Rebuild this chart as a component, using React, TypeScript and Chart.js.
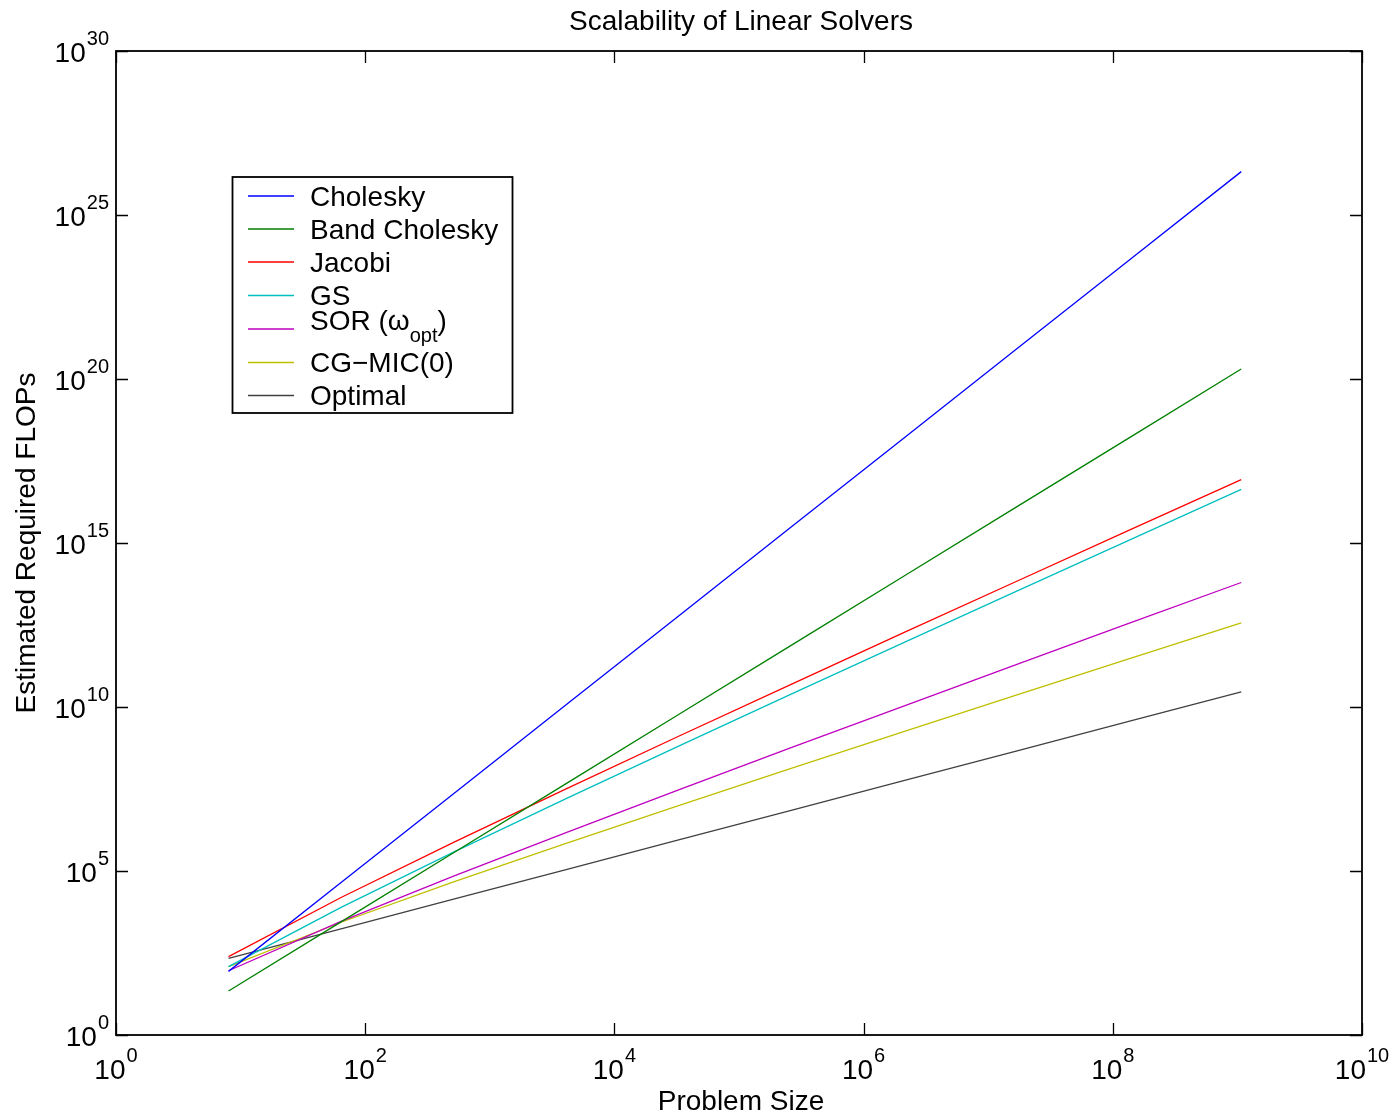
import React, { useEffect, useRef } from "react";
import { Chart, registerables } from "chart.js";

Chart.register(...registerables);

// Problem sizes N = n^3, n = 2 ... 1024
const problemSizes = [8, 64, 512, 4096, 32768, 262144, 2097152, 16777216, 134217728, 1073741824];

const cholesky = [87, 4.45e4, 2.28e7, 1.17e10, 5.98e12, 3.06e15, 1.57e18, 8.02e20, 4.11e23, 2.1e26];
const bandCholesky = [21.9, 2.81e3, 3.59e5, 4.6e7, 5.89e9, 7.54e11, 9.66e13, 1.24e16, 1.58e18, 2.02e20];
const jacobi = [244, 1.56e4, 7.5e5, 3.2e7, 1.28e9, 4.92e10, 1.84e12, 6.71e13, 2.42e15, 8.59e16];
const gaussSeidel = [122, 7.81e3, 3.75e5, 1.6e7, 6.4e8, 2.46e10, 9.18e11, 3.36e13, 1.21e15, 4.3e16];
const sorOpt = [91, 2.91e3, 6.99e4, 1.49e6, 2.98e7, 5.73e8, 1.07e10, 1.95e11, 3.52e12, 6.25e13];
const cgMic0 = [121, 2.74e3, 4.64e4, 7.0e5, 9.91e6, 1.35e8, 1.78e9, 2.3e10, 2.92e11, 3.67e12];
const optimal = [216, 1728, 13824, 110592, 884736, 7077888, 56623104, 452984832, 3623878656, 28991029248];

const seriesNames = ["Cholesky", "Band Cholesky", "Jacobi", "GS", "SOR", "CG\u2212MIC(0)", "Optimal"];
const seriesValues = [cholesky, bandCholesky, jacobi, gaussSeidel, sorOpt, cgMic0, optimal];
const seriesColors = ["#0000ff", "#008000", "#ff0000", "#00bfbf", "#bf00bf", "#bfbf00", "#404040"];

const xTickExponents = [0, 2, 4, 6, 8, 10];
const yTickExponents = [0, 5, 10, 15, 20, 25, 30];

const titleText = "Scalability of Linear Solvers";
const xTitle = "Problem Size";
const yTitle = "Estimated Required FLOPs";

const FONT = '"Liberation Sans", Arial, Helvetica, sans-serif';

const decorPlugin = {
  id: "decor",
  beforeDraw(chart: any) {
    const ctx = chart.ctx;
    ctx.save();
    ctx.fillStyle = "#ffffff";
    ctx.fillRect(0, 0, chart.width, chart.height);
    ctx.restore();
  },
  afterDraw(chart: any) {
    const ctx = chart.ctx as CanvasRenderingContext2D;
    const ca = chart.chartArea;
    const xs = chart.scales.x;
    const ys = chart.scales.y;
    ctx.save();
    // frame
    ctx.strokeStyle = "#000";
    ctx.lineWidth = 1.8;
    ctx.strokeRect(ca.left, ca.top, ca.right - ca.left, ca.bottom - ca.top);
    // ticks
    const tl = 12;
    ctx.lineWidth = 1.3;
    ctx.beginPath();
    xTickExponents.forEach((e) => {
      const px = Math.round(xs.getPixelForValue(Math.pow(10, e))) + 0.5;
      ctx.moveTo(px, ca.bottom);
      ctx.lineTo(px, ca.bottom - tl);
      ctx.moveTo(px, ca.top);
      ctx.lineTo(px, ca.top + tl);
    });
    yTickExponents.forEach((e) => {
      const py = Math.round(ys.getPixelForValue(Math.pow(10, e))) + 0.5;
      ctx.moveTo(ca.left, py);
      ctx.lineTo(ca.left + tl, py);
      ctx.moveTo(ca.right, py);
      ctx.lineTo(ca.right - tl, py);
    });
    ctx.stroke();

    ctx.fillStyle = "#000";
    ctx.textBaseline = "alphabetic";
    const big = "28px " + FONT;
    const small = "20px " + FONT;
    // x tick labels
    xTickExponents.forEach((e) => {
      const px = xs.getPixelForValue(Math.pow(10, e));
      ctx.font = big;
      const w1 = ctx.measureText("10").width;
      ctx.font = small;
      const w2 = ctx.measureText(String(e)).width;
      const total = w1 + 1 + w2;
      const sx = px - total / 2;
      ctx.textAlign = "left";
      ctx.font = big;
      ctx.fillText("10", sx, ca.bottom + 43.5);
      ctx.font = small;
      ctx.fillText(String(e), sx + w1 + 1, ca.bottom + 27);
    });
    // y tick labels
    yTickExponents.forEach((e) => {
      const py = ys.getPixelForValue(Math.pow(10, e));
      ctx.font = small;
      const w2 = ctx.measureText(String(e)).width;
      ctx.font = big;
      const w1 = ctx.measureText("10").width;
      const right = ca.left - 7;
      ctx.textAlign = "left";
      ctx.font = big;
      ctx.fillText("10", right - w2 - 1 - w1, py + 10.5);
      ctx.font = small;
      ctx.fillText(String(e), right - w2, py - 6);
    });
    // title
    ctx.font = big;
    ctx.textAlign = "center";
    ctx.fillText(titleText, (ca.left + ca.right) / 2 + 2, 29.5);
    // x title
    ctx.fillText(xTitle, (ca.left + ca.right) / 2 + 2, 1110);
    // y title
    ctx.save();
    ctx.translate(35, (ca.top + ca.bottom) / 2);
    ctx.rotate(-Math.PI / 2);
    ctx.textAlign = "center";
    ctx.fillText(yTitle, 0, 0);
    ctx.restore();

    // legend
    const bx = 232.5, by = 177, bw = 280, bh = 236;
    ctx.fillStyle = "#fff";
    ctx.fillRect(bx, by, bw, bh);
    ctx.strokeStyle = "#000";
    ctx.lineWidth = 1.8;
    ctx.strokeRect(bx, by, bw, bh);
    const rowY = [196, 229, 262, 295.5, 329, 362.5, 395.5];
    chart.data.datasets.forEach((ds: any, i: number) => {
      const y = rowY[i];
      ctx.strokeStyle = ds.borderColor;
      ctx.lineWidth = 1.3;
      ctx.beginPath();
      ctx.moveTo(248, y);
      ctx.lineTo(294, y);
      ctx.stroke();
      ctx.fillStyle = "#000";
      ctx.textAlign = "left";
      ctx.font = big;
      if (i === 4) {
        const base = y + 0.5;
        const t1 = "SOR (\u03c9";
        ctx.fillText(t1, 310, base);
        const w = ctx.measureText(t1).width;
        ctx.font = small;
        ctx.fillText("opt", 310 + w, base + 12);
        const w3 = ctx.measureText("opt").width;
        ctx.font = big;
        ctx.fillText(")", 310 + w + w3, base);
      } else {
        ctx.fillText(ds.label, 310, y + 9.5);
      }
    });
    ctx.restore();
  },
};

export default function App() {
  const ref = useRef<HTMLCanvasElement>(null);
  useEffect(() => {
    const datasets = seriesNames.map((name, i) => ({
      label: name,
      data: problemSizes.map((n, j) => ({ x: n, y: seriesValues[i][j] })),
      borderColor: seriesColors[i],
      backgroundColor: seriesColors[i],
      borderWidth: 1.3,
      pointRadius: 0,
      fill: false,
      tension: 0,
    }));
    const chart = new Chart(ref.current as HTMLCanvasElement, {
      type: "line",
      data: { datasets },
      options: {
        animation: false,
        responsive: false,
        devicePixelRatio: 1,
        events: [],
        layout: { padding: { left: 116, top: 51, right: 32, bottom: 82 } },
        scales: {
          x: { type: "logarithmic", min: 1, max: 1e10, display: false },
          y: { type: "logarithmic", min: 1, max: 1e30, display: false },
        },
        plugins: {
          legend: { display: false },
          tooltip: { enabled: false },
          title: { display: false },
        },
      },
      plugins: [decorPlugin],
    } as any);
    return () => chart.destroy();
  }, []);
  return (
    <div style={{ position: "fixed", left: 0, top: 0, width: 1394, height: 1117, background: "#fff" }}>
      <canvas ref={ref} width={1394} height={1117} style={{ display: "block", width: 1394, height: 1117 }} />
    </div>
  );
}
